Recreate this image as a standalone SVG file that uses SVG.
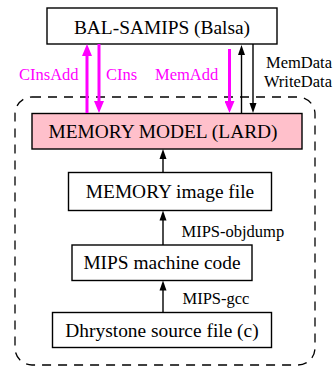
<svg xmlns="http://www.w3.org/2000/svg" width="336" height="371" viewBox="0 0 336 371">
<style>
.box{fill:#fff;stroke:#000;stroke-width:1.4}
.pink{fill:#ffc0cb;stroke:#000;stroke-width:1.4}
.mag{stroke:#ff00ff;stroke-width:3;fill:none}
.blk{stroke:#000;stroke-width:1.4;fill:none}
.dash{fill:none;stroke:#000;stroke-width:1.3;stroke-dasharray:9 7}
</style>
<defs>
<marker id="am" markerUnits="userSpaceOnUse" markerWidth="12" markerHeight="10" refX="6" refY="5" orient="auto">
<path d="M0,0 L12,5 L0,10 z" fill="#ff00ff"/>
</marker>
<marker id="ab" markerUnits="userSpaceOnUse" markerWidth="10" markerHeight="8" refX="5" refY="4" orient="auto">
<path d="M0,0.5 L10,4 L0,7.5 z" fill="#000"/>
</marker>
</defs>
<rect class="dash" x="15" y="97" width="300" height="268" rx="17" ry="17"/>
<g id="bal">
<rect class="box" x="47" y="8" width="230" height="36"/>
<text x="162" y="33.5" font-family="Liberation Serif" font-size="19.4" text-anchor="middle">BAL-SAMIPS (Balsa)</text>
</g>
<g id="memmodel">
<rect class="pink" x="32" y="113.5" width="270" height="35.5"/>
<text x="163" y="137.5" font-family="Liberation Serif" font-size="19.4" text-anchor="middle">MEMORY MODEL (LARD)</text>
</g>
<g id="memimage">
<rect class="box" x="68.5" y="172.5" width="203" height="38"/>
<text x="170" y="198" font-family="Liberation Serif" font-size="19.4" text-anchor="middle">MEMORY image file</text>
</g>
<g id="mipscode">
<rect class="box" x="72" y="245" width="180" height="35.5"/>
<text x="162" y="268.5" font-family="Liberation Serif" font-size="19.4" text-anchor="middle">MIPS machine code</text>
</g>
<g id="dhry">
<rect class="box" x="52.5" y="312.5" width="219" height="35"/>
<text x="162" y="337" font-family="Liberation Serif" font-size="19.4" text-anchor="middle">Dhrystone source file (c)</text>
</g>
<g id="connectors">
<line class="mag" x1="87" y1="113" x2="87" y2="50" marker-end="url(#am)"/>
<line class="mag" x1="99" y1="44" x2="99" y2="107" marker-end="url(#am)"/>
<line class="mag" x1="229.5" y1="49" x2="229.5" y2="107" marker-end="url(#am)"/>
<line class="blk" x1="241.5" y1="113" x2="241.5" y2="50" marker-end="url(#ab)"/>
<line class="blk" x1="253" y1="44" x2="253" y2="108" marker-end="url(#ab)"/>
<line class="blk" x1="163" y1="172.5" x2="163" y2="154" marker-end="url(#ab)"/>
<line class="blk" x1="163" y1="245" x2="163" y2="215.5" marker-end="url(#ab)"/>
<line class="blk" x1="163" y1="312.5" x2="163" y2="285.5" marker-end="url(#ab)"/>
<text x="19" y="79.5" font-family="Liberation Serif" font-size="16.5" fill="#ff00ff">CInsAdd</text>
<text x="106" y="79.5" font-family="Liberation Serif" font-size="16.5" fill="#ff00ff">CIns</text>
<text x="155" y="79.5" font-family="Liberation Serif" font-size="16.5" fill="#ff00ff">MemAdd</text>
<text x="332" y="68" font-family="Liberation Serif" font-size="16.5" text-anchor="end">MemData</text>
<text x="332" y="86.5" font-family="Liberation Serif" font-size="16.5" text-anchor="end">WriteData</text>
<text x="181.5" y="237" font-family="Liberation Serif" font-size="16.5">MIPS-objdump</text>
<text x="182.5" y="303.5" font-family="Liberation Serif" font-size="16.5">MIPS-gcc</text>
</g>
</svg>
